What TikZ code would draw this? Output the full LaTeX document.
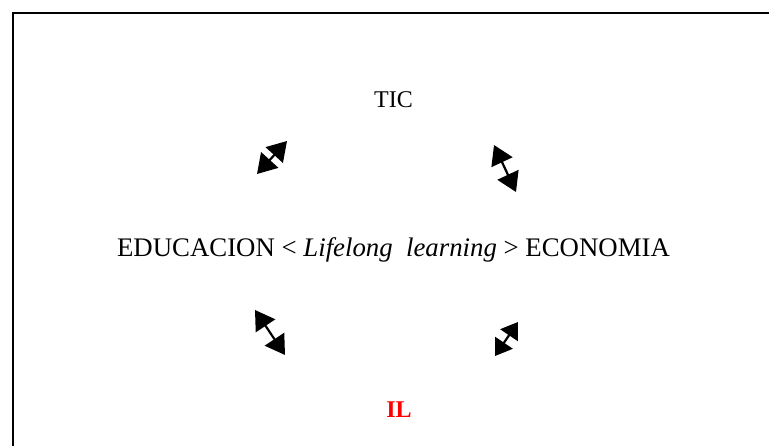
\documentclass[tikz,border=0pt]{standalone}
\usepackage{fontspec}
\setmainfont{Liberation Serif}
\usetikzlibrary{arrows.meta}
\begin{document}
\begin{tikzpicture}[x=1pt,y=-1pt,
  lbl/.style={inner sep=0pt,font=\fontsize{24}{28}\selectfont},
  big/.style={inner sep=0pt,font=\fontsize{26.8}{31}\selectfont},
  dbl/.style={line width=2.2pt,{Triangle[length=19pt,width=23pt]}-{Triangle[length=19pt,width=23pt]}},
  dbls/.style={line width=2.2pt,{Triangle[length=16pt,width=21pt]}-{Triangle[length=16pt,width=21pt]}}]
\useasboundingbox (0,0) rectangle (769,446);
\draw[line width=2pt] (13,446) -- (13,13) -- (769,13);
\node[lbl] (tic) at (393.5,100) {TIC};
\node[big] (main) at (393.5,250) {EDUCACION < \textit{Lifelong\ \ learning} > ECONOMIA};
\node[lbl,text=red,font=\fontsize{24}{28}\selectfont\bfseries] (il) at (399,410) {IL};
\coordinate (a1s) at (257,174); \coordinate (a1e) at (287,141);
\coordinate (a2s) at (494,145); \coordinate (a2e) at (516,192);
\coordinate (a3s) at (255,310); \coordinate (a3e) at (285,355);
\coordinate (a4s) at (518,322); \coordinate (a4e) at (495,356);
\draw[dbl] (a1s) -- (a1e);
\draw[dbl] (a2s) -- (a2e);
\draw[dbl] (a3s) -- (a3e);
\draw[dbls] (a4s) -- (a4e);
\end{tikzpicture}
\end{document}
